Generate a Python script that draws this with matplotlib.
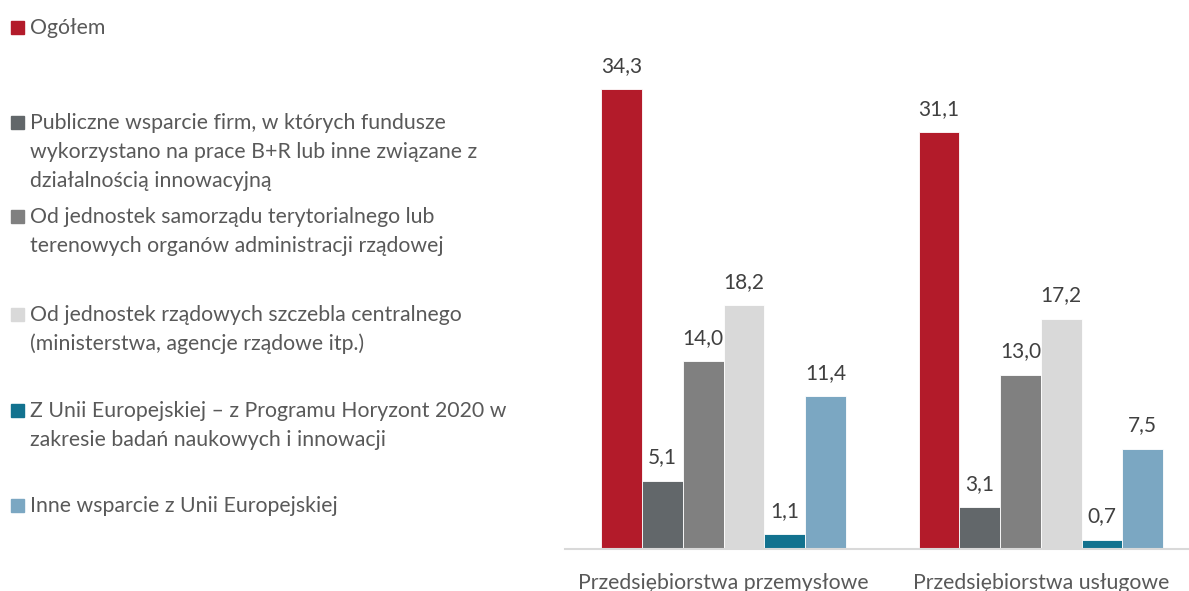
import matplotlib
matplotlib.use("Agg")
import matplotlib.pyplot as plt
from matplotlib.patches import Rectangle
import numpy as np

plt.rcParams['font.family'] = ['Lato', 'DejaVu Sans']

categories = ["Przedsiębiorstwa przemysłowe", "Przedsiębiorstwa usługowe"]
series_names = [
    "Ogółem",
    "Publiczne wsparcie firm, w których fundusze\nwykorzystano na prace B+R lub inne związane z\ndziałalnością innowacyjną",
    "Od jednostek samorządu terytorialnego lub\nterenowych organów administracji rządowej",
    "Od jednostek rządowych szczebla centralnego\n(ministerstwa, agencje rządowe itp.)",
    "Z Unii Europejskiej – z Programu Horyzont 2020 w\nzakresie badań naukowych i innowacji",
    "Inne wsparcie z Unii Europejskiej",
]
ogolem = [34.3, 31.1]
publiczne = [5.1, 3.1]
samorzad = [14.0, 13.0]
rzadowe = [18.2, 17.2]
horyzont = [1.1, 0.7]
inne_ue = [11.4, 7.5]
values = [ogolem, publiczne, samorzad, rzadowe, horyzont, inne_ue]
colors = ["#B31B2A", "#62676A", "#808080", "#D9D9D9", "#12728F", "#7BA7C2"]

W, H = 1189, 591
fig = plt.figure(figsize=(W / 100, H / 100), dpi=100)

# axes: left at x=565 px, baseline at y=549 px
ax_left = 565 / W
ax_bottom = (H - 549) / H
ax_top = (H - 13) / H
ax = fig.add_axes([ax_left, ax_bottom, 1 - ax_left, ax_top - ax_bottom])

bw = 0.1285
x = np.arange(len(categories))
n = len(values)
for i, (vals, c) in enumerate(zip(values, colors)):
    pos = x + (i - (n - 1) / 2) * bw
    bars = ax.bar(pos, vals, width=bw, color=c, edgecolor="white", linewidth=0.6, zorder=2)
    for b, v in zip(bars, vals):
        ax.annotate(f"{v:.1f}".replace(".", ","), (b.get_x() + b.get_width() / 2, v),
                    xytext=(0, 12.5), textcoords="offset points", ha="center", va="baseline",
                    fontsize=15, color="#404040")

ax.set_xlim(-0.5, 1.467)
ax.set_ylim(0, 40)
ax.set_yticks([])
ax.set_xticks(x)
ax.set_xticklabels(categories, fontsize=15.3, color="#595959")
ax.tick_params(axis="x", length=0, pad=17)
for s in ["top", "right", "left"]:
    ax.spines[s].set_visible(False)
ax.spines["bottom"].set_color("#D9D9D9")
ax.spines["bottom"].set_linewidth(1.5)

# manual legend: baseline of first line (pixels from top), line spacing 29 px
legend_base = [34, 129, 223, 321, 417, 512]
line_step = 29
for name, c, yb in zip(series_names, colors, legend_base):
    fig.patches.append(Rectangle((11 / W, (H - yb) / H), 13 / W, 13 / H,
                                 transform=fig.transFigure, color=c, figure=fig))
    for k, line in enumerate(name.split("\n")):
        fig.text(30 / W, (H - yb - k * line_step) / H, line, ha="left", va="baseline",
                 fontsize=15.3, color="#595959", transform=fig.transFigure)

fig.savefig("out.png", dpi=100)
